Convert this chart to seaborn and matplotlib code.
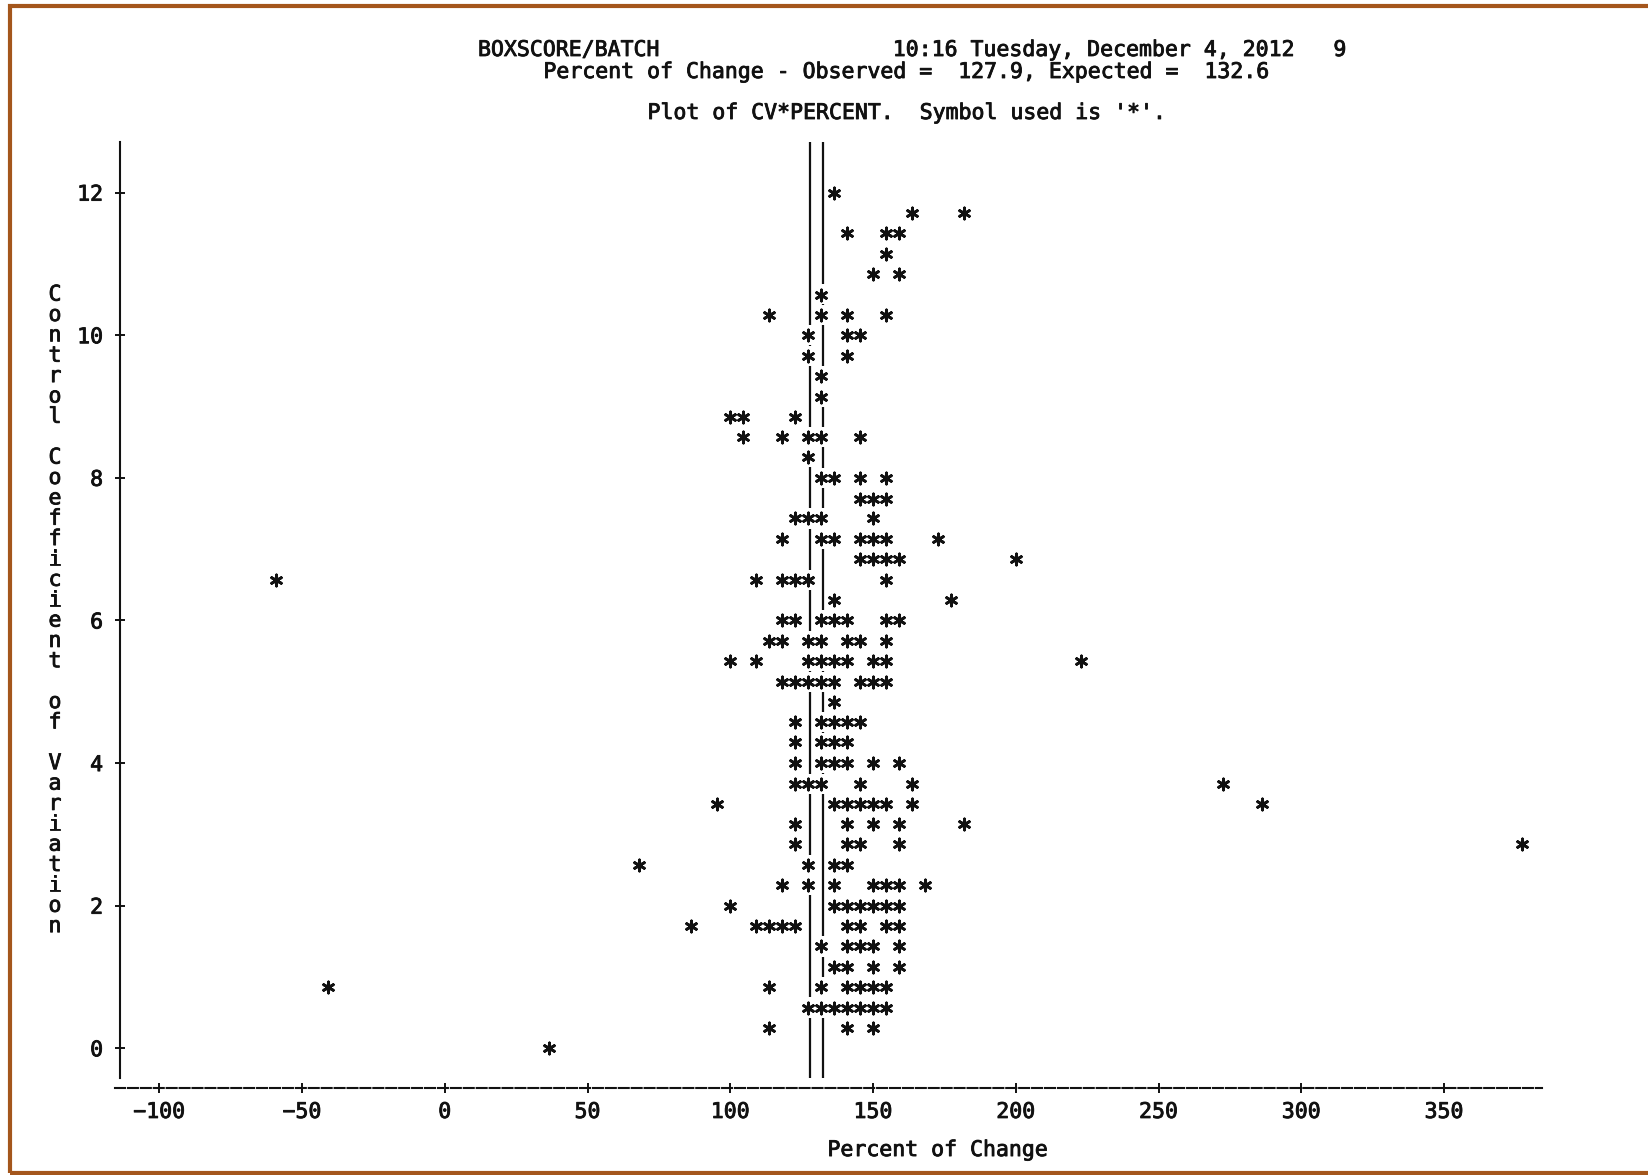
import matplotlib
matplotlib.use("Agg")
import matplotlib.pyplot as plt
import matplotlib.patheffects as pe
import matplotlib.transforms as mtransforms
from matplotlib.patches import Rectangle
import pandas as pd
import seaborn as sns

# Texto do cabecalho (saida de PROC PLOT do SAS)
title_line1 = "BOXSCORE/BATCH" + " " * 18 + "10:16 Tuesday, December 4, 2012   9"
title_line2 = "Percent of Change - Observed =  127.9, Expected =  132.6"
title_line3 = "Plot of CV*PERCENT.  Symbol used is '*'."
x_label = "Percent of Change"
y_label = "Control Coefficient of Variation"

observed = 127.9
expected = 132.6

# Valores: uma linha do grafico por nivel de CV
cv_levels = [12.00, 11.71, 11.43, 11.14, 10.86, 10.57, 10.29, 10.00,
             9.71, 9.43, 9.14, 8.86, 8.57, 8.29, 8.00, 7.71, 7.43, 7.14,
             6.86, 6.57, 6.29, 6.00, 5.71, 5.43, 5.14, 4.86, 4.57, 4.29,
             4.00, 3.71, 3.43, 3.14, 2.86, 2.57, 2.29, 2.00, 1.71, 1.43,
             1.14, 0.86, 0.57, 0.29, 0.00]
pct_by_level = [
    [136.4],
    [163.6, 181.8],
    [140.9, 154.5, 159.1],
    [154.5],
    [150.0, 159.1],
    [131.8],
    [113.6, 131.8, 140.9, 154.5],
    [127.3, 140.9, 145.5],
    [127.3, 140.9],
    [131.8],
    [131.8],
    [100.0, 104.5, 122.7],
    [104.5, 118.2, 127.3, 131.8, 145.5],
    [127.3],
    [131.8, 136.4, 145.5, 154.5],
    [145.5, 150.0, 154.5],
    [122.7, 127.3, 131.8, 150.0],
    [118.2, 131.8, 136.4, 145.5, 150.0, 154.5, 172.7],
    [145.5, 150.0, 154.5, 159.1, 200.0],
    [-59.1, 109.1, 118.2, 122.7, 127.3, 154.5],
    [136.4, 177.3],
    [118.2, 122.7, 131.8, 136.4, 140.9, 154.5, 159.1],
    [113.6, 118.2, 127.3, 131.8, 140.9, 145.5, 154.5],
    [100.0, 109.1, 127.3, 131.8, 136.4, 140.9, 150.0, 154.5, 222.7],
    [118.2, 122.7, 127.3, 131.8, 136.4, 145.5, 150.0, 154.5],
    [136.4],
    [122.7, 131.8, 136.4, 140.9, 145.5],
    [122.7, 131.8, 136.4, 140.9],
    [122.7, 131.8, 136.4, 140.9, 150.0, 159.1],
    [122.7, 127.3, 131.8, 145.5, 163.6, 272.7],
    [95.5, 136.4, 140.9, 145.5, 150.0, 154.5, 163.6, 286.4],
    [122.7, 140.9, 150.0, 159.1, 181.8],
    [122.7, 140.9, 145.5, 159.1, 377.3],
    [68.2, 127.3, 136.4, 140.9],
    [118.2, 127.3, 136.4, 150.0, 154.5, 159.1, 168.2],
    [100.0, 136.4, 140.9, 145.5, 150.0, 154.5, 159.1],
    [86.4, 109.1, 113.6, 118.2, 122.7, 140.9, 145.5, 154.5, 159.1],
    [131.8, 140.9, 145.5, 150.0, 159.1],
    [136.4, 140.9, 150.0, 159.1],
    [-40.9, 113.6, 131.8, 140.9, 145.5, 150.0, 154.5],
    [127.3, 131.8, 136.4, 140.9, 145.5, 150.0, 154.5],
    [113.6, 140.9, 150.0],
    [36.4],
]

x_ticks = [-100, -50, 0, 50, 100, 150, 200, 250, 300, 350]
y_ticks = [0, 2, 4, 6, 8, 10, 12]

rows = [(p, cv) for cv, pcts in zip(cv_levels, pct_by_level) for p in pcts]
df = pd.DataFrame(rows, columns=["PERCENT", "CV"])

ink = "#111111"
sns.set_style("ticks")
plt.rcParams["font.family"] = ["DejaVu Sans Mono", "DejaVu Sans"]
plt.rcParams["font.size"] = 15.5
plt.rcParams["text.color"] = ink
plt.rcParams["axes.unicode_minus"] = True

# traco um pouco mais grosso, como na impressao original
heavy = [pe.withStroke(linewidth=0.6, foreground=ink)]

fig = plt.figure(figsize=(16.48, 11.75), dpi=100)
ax = fig.add_axes([115 / 1648, 87 / 1175, 1427 / 1648, 946 / 1175])
ax.set_xlim(-115.5, 384.3)
ax.set_ylim(-0.557, 12.71)
y_low, y_top = -0.417, 12.71

sns.scatterplot(data=df, x="PERCENT", y="CV", marker=(6, 2, 0), s=64,
                color=ink, linewidth=2.0, clip_on=False, legend=False, ax=ax)

# linhas de referencia (observado / esperado), interrompidas onde ha '*'
half_row = 1 / 7
for ref in [observed, expected]:
    hits = sorted(df.loc[(df["PERCENT"] - ref).abs() < 2.3, "CV"])
    segs, start = [], y_low
    for h in hits:
        segs.append((start, h - half_row))
        start = h + half_row
    segs.append((start, y_top))
    ax.vlines([ref] * len(segs), [s[0] for s in segs], [s[1] for s in segs],
              color=ink, linewidth=1.6)

# eixos no estilo impressora de linha
ax.spines["top"].set_visible(False)
ax.spines["right"].set_visible(False)
ax.spines["left"].set_position(("data", -113.6))
ax.spines["left"].set_bounds(y_low, y_top)
ax.spines["left"].set_linewidth(1.5)
ax.spines["left"].set_color(ink)
ax.spines["bottom"].set_linewidth(1.5)
ax.spines["bottom"].set_color(ink)
ax.spines["bottom"].set_linestyle((0, (4.8, 1.4)))

ax.set_xticks(x_ticks)
ax.set_yticks(y_ticks)
ax.tick_params(axis="both", direction="inout", length=7.9, width=1.4,
               colors=ink, labelsize=15.5)
ax.tick_params(axis="y", pad=8.5)
ax.tick_params(axis="x", pad=6.1)
for lab in ax.get_xticklabels() + ax.get_yticklabels():
    lab.set_path_effects(heavy)

ax.set_xlabel(x_label, fontsize=15.5, color=ink, path_effects=heavy)
ax.xaxis.set_label_coords(0.5767, -0.055)
ax.set_ylabel("")

# rotulo vertical, uma letra por linha
trans = mtransforms.blended_transform_factory(fig.transFigure, ax.transData)
for i, ch in enumerate(y_label):
    ax.text(55 / 1648, 10.57 - i * 2 / 7, ch, transform=trans,
            ha="center", va="center", fontsize=15.5, color=ink,
            path_effects=heavy)

fig.text(478 / 1648, 1 - 50 / 1175, title_line1, ha="left", va="center",
         path_effects=heavy)
fig.text(543.4 / 1648, 1 - 72 / 1175, title_line2, ha="left", va="center",
         path_effects=heavy)
fig.text(647.5 / 1648, 1 - 113 / 1175, title_line3, ha="left", va="center",
         path_effects=heavy)

# moldura marrom da captura
fig.patches.append(Rectangle((9.5 / 1648, 2 / 1175), 1.2, 1167 / 1175,
                             transform=fig.transFigure, fill=False,
                             edgecolor="#a4561c", linewidth=3))

fig.savefig("out.png", dpi=100)
